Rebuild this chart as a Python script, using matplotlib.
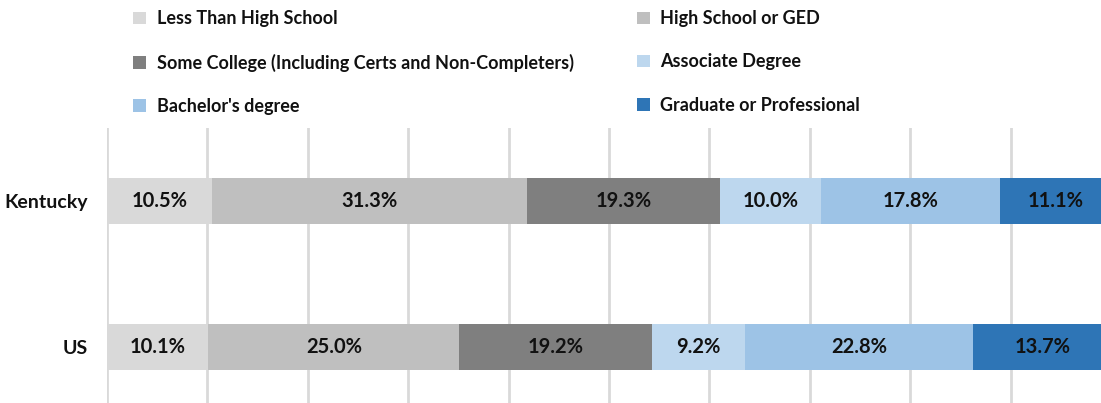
import matplotlib
matplotlib.use('Agg')
import matplotlib.pyplot as plt
import numpy as np

# ---------------------------------------------------------------------------
# Data
# ---------------------------------------------------------------------------
regions = ['Kentucky', 'US']
levels = ['Less Than High School', 'High School or GED',
          'Some College (Including Certs and Non-Completers)', 'Associate Degree',
          "Bachelor's degree", 'Graduate or Professional']
kentucky = [10.5, 31.3, 19.3, 10.0, 17.8, 11.1]
us = [10.1, 25.0, 19.2, 9.2, 22.8, 13.7]
colors = ['#D9D9D9', '#BFBFBF', '#7F7F7F', '#BDD7EE', '#9DC3E6', '#2E75B6']

plt.rcParams['font.family'] = ['Lato', 'DejaVu Sans']
plt.rcParams['font.weight'] = 'bold'
text_color = '#111111'

W, H = 1101, 403
fig = plt.figure(figsize=(W / 100, H / 100), dpi=100)
# plot area runs past the right and bottom edges (cropped chart)
left, right = 107, 1111
top, bottom = 128, 420
ax = fig.add_axes([left / W, 1 - bottom / H, (right - left) / W, (bottom - top) / H])

values = np.array([kentucky, us])
y = np.arange(len(regions))
cum = np.zeros(len(regions))
handles = []
for i, name in enumerate(levels):
    bars = ax.barh(y, values[:, i], left=cum, height=0.315, color=colors[i],
                   label=name, zorder=2)
    ax.bar_label(bars, labels=[f'{v:.1f}%' for v in values[:, i]],
                 label_type='center', fontsize=14.5, color=text_color,
                 fontweight='bold')
    cum += values[:, i]
    handles.append(bars)

ax.set_xlim(0, 100)
ax.set_ylim(1.5, -0.5)
ax.set_xticks(np.arange(0, 101, 10))
ax.set_yticks(y)
ax.set_yticklabels(regions, fontsize=14, color=text_color, fontweight='bold')
ax.tick_params(axis='y', length=0, pad=14)
ax.tick_params(axis='x', length=0, labelbottom=False)
ax.grid(axis='x', color='#D9D9D9', linewidth=2, zorder=0)
ax.set_axisbelow(True)
for s in ax.spines.values():
    s.set_visible(False)

# legend: 3 rows x 2 columns, ordered row-wise
order = [0, 2, 4, 1, 3, 5]
leg = fig.legend([handles[k] for k in order], [levels[k] for k in order],
                 ncol=2, loc='upper left', bbox_to_anchor=(117 / W, 1 + 6 / H),
                 frameon=False, fontsize=13, handlelength=0.7,
                 handleheight=0.7, handletextpad=0.6, labelspacing=1.45,
                 columnspacing=3.5, labelcolor=text_color)

fig.savefig('out.png', dpi=100)
